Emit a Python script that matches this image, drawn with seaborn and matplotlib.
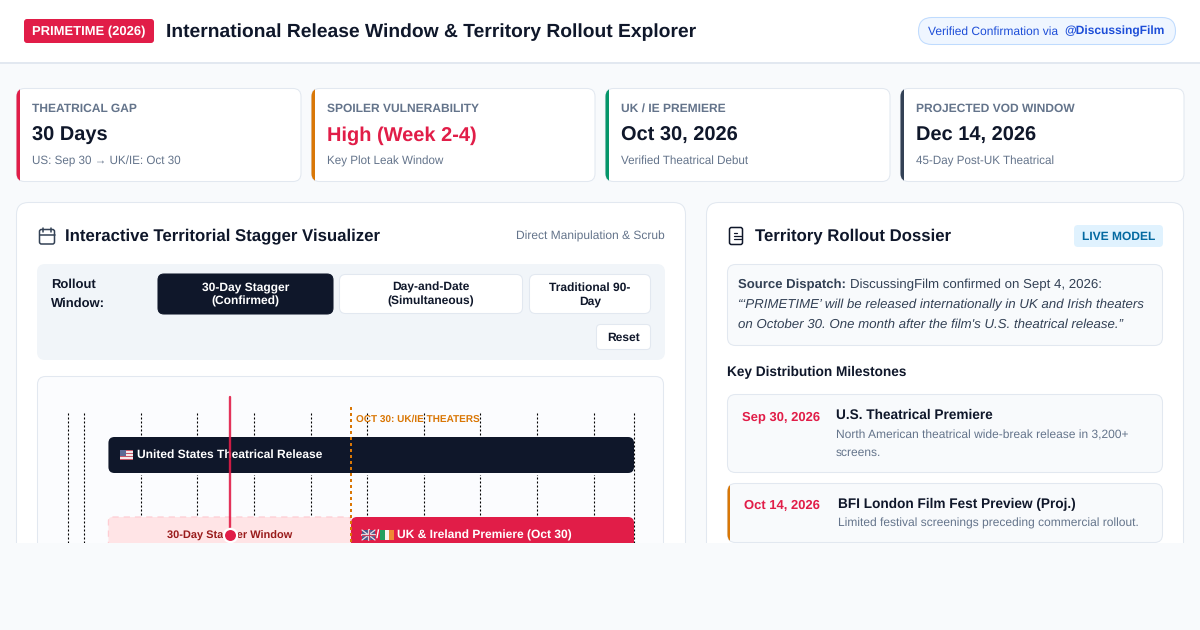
import matplotlib
matplotlib.use("Agg")
import matplotlib.pyplot as plt
import matplotlib.dates as mdates
from matplotlib.patches import FancyBboxPatch, Rectangle
from datetime import date
import seaborn as sns

# Timeline data
axis_start = date(2026, 9, 25)
axis_end = date(2026, 12, 4)
grid_dates = [date(2026, 9, 25), date(2026, 9, 27), date(2026, 10, 4), date(2026, 10, 11),
              date(2026, 10, 18), date(2026, 10, 25), date(2026, 11, 1), date(2026, 11, 8),
              date(2026, 11, 15), date(2026, 11, 22), date(2026, 11, 29), date(2026, 12, 4)]
scrub_date = date(2026, 10, 15)
uk_date = date(2026, 10, 30)

tracks = ["US", "UK/IE"]
bar_tracks = ["US", "UK/IE", "UK/IE"]
bar_starts = [date(2026, 9, 30), date(2026, 9, 30), date(2026, 10, 30)]
bar_ends = [date(2026, 12, 4), date(2026, 10, 30), date(2026, 12, 4)]
bar_labels = ["United States Theatrical Release", "30-Day Stagger Window", "UK & Ireland Premiere (Oct 30)"]

card_titles = ["THEATRICAL GAP", "SPOILER VULNERABILITY", "UK / IE PREMIERE", "PROJECTED VOD WINDOW"]
card_values = ["30 Days", "High (Week 2-4)", "Oct 30, 2026", "Dec 14, 2026"]
card_notes = ["US: Sep 30 → UK/IE: Oct 30", "Key Plot Leak Window", "Verified Theatrical Debut", "45-Day Post-UK Theatrical"]
card_x = [16, 311, 605, 900]
card_w = [285, 284, 285, 284]

INK = "#0f172a"
ROSE = "#e11d48"
AMBER = "#d97706"
GREEN = "#059669"
SLATE = "#334155"
GREY = "#64748b"
LINE = "#e2e8f0"
PAGE = "#f8fafc"
card_colors = [ROSE, AMBER, GREEN, SLATE]
value_colors = [INK, ROSE, INK, INK]

sns.set_theme(style="white")
plt.rcParams["font.family"] = ["Liberation Sans", "DejaVu Sans"]
plt.rcParams["text.hinting"] = "no_hinting"

fig = plt.figure(figsize=(12, 6.3), dpi=100, facecolor=PAGE)
ui = fig.add_axes([0, 0, 1, 1], zorder=0)
ui.set_xlim(0, 1200)
ui.set_ylim(630, 0)
ui.axis("off")


def px(size):
    return size * 0.72


def box(x, y, w, h, r=8, fc="white", ec=LINE, lw=0.75, ax=ui, z=2, **kw):
    p = FancyBboxPatch((x, y), w, h, boxstyle=f"round,pad=0,rounding_size={r}", fc=fc, ec=ec, lw=lw, zorder=z, **kw)
    ax.add_patch(p)
    return p


def txt(x, y, s, size=13, color=INK, weight="normal", ha="left", style="normal", z=5, **kw):
    return ui.text(x, y, s, fontsize=px(size), color=color, fontweight=weight, ha=ha, va="center",
                   fontstyle=style, zorder=z, **kw)


# header
ui.add_patch(Rectangle((0, 0), 1200, 63, fc="white", ec="none", zorder=1))
ui.add_patch(Rectangle((0, 62), 1200, 2, fc=LINE, ec="none", zorder=1))
box(24, 19, 130, 24, r=3, fc=ROSE, ec="none")
txt(32, 31.5, "PRIMETIME (2026)", 13, "white", "bold")
txt(166, 32, "International Release Window & Territory Rollout Explorer", 19.3, INK, "bold")
box(918.5, 17.5, 257, 27, r=13.5, fc="#eff6ff", ec="#bfdbfe")
txt(928.5, 31.5, "Verified Confirmation via", 12, "#1d4ed8")
txt(1064, 31.5, "@DiscussingFilm", 12, "#1d4ed8", "bold")

# stat cards
for i in range(4):
    x, w = card_x[i], card_w[i]
    box(x + 0.5, 88.5, w - 0.5, 93, r=8, ec=LINE)
    clip = box(x + 0.5, 88.5, w - 0.5, 93, r=8, fc="none", ec="none", z=1)
    bar = Rectangle((x, 88), 4, 94, fc=card_colors[i], ec="none", zorder=3)
    ui.add_patch(bar)
    bar.set_clip_path(clip)
    txt(x + 16, 109, card_titles[i], 12, GREY, "bold")
    txt(x + 16, 135.5, card_values[i], 20, value_colors[i], "bold")
    txt(x + 16, 161, card_notes[i], 11.6, GREY)

# main panels, cut by the bottom of the page
box(16.5, 202.5, 669, 420, r=12, ec=LINE)
box(706.5, 202.5, 477, 420, r=12, ec=LINE)

# left panel header
box(39.5, 229.5, 15, 14.5, r=2, fc="none", ec=SLATE, lw=1.1)
ui.plot([39.5, 54.5], [235, 235], color=SLATE, lw=1.1, zorder=4)
ui.plot([43, 43], [227.5, 231.5], color=SLATE, lw=1.1, zorder=4)
ui.plot([51, 51], [227.5, 231.5], color=SLATE, lw=1.1, zorder=4)
txt(65, 236, "Interactive Territorial Stagger Visualizer", 16.8, INK, "bold")
txt(665, 236.5, "Direct Manipulation & Scrub", 12, GREY, ha="right")

# controls
box(37, 264, 628, 96, r=8, fc="#f1f5f9", ec="none")
txt(51, 285, "Rollout", 13, INK, "bold")
txt(51, 304, "Window:", 13, INK, "bold")
box(158, 274, 175, 40, r=6, fc=INK, ec=INK)
txt(245.5, 287.5, "30-Day Stagger", 12, "white", "bold", ha="center")
txt(245.5, 301.5, "(Confirmed)", 12, "white", "bold", ha="center")
box(339.5, 274.5, 183, 39, r=6)
txt(431, 287.5, "Day-and-Date", 12, INK, "bold", ha="center")
txt(431, 301.5, "(Simultaneous)", 12, INK, "bold", ha="center")
box(529.5, 274.5, 121, 39, r=6)
txt(590, 287.5, "Traditional 90-", 12, INK, "bold", ha="center")
txt(590, 301.5, "Day", 12, INK, "bold", ha="center")
box(596.5, 324.5, 54, 25, r=4)
txt(623.5, 337.5, "Reset", 12, INK, "bold", ha="center")

# timeline frame
box(37.5, 376.5, 626, 240, r=8, fc="#fbfcfe", ec=LINE)


def fig_rect(x0, y0, x1, y1):
    return [x0 / 1200, 1 - y1 / 630, (x1 - x0) / 1200, (y1 - y0) / 630]


# timeline axes: 80 px per track, x in days
tl = fig.add_axes(fig_rect(68, 412, 634, 543), zorder=1)
tl.patch.set_alpha(0)
ROW_TOP = (412 - 455) / 80
ROW_BOTTOM = (543 - 455) / 80
px_per_day = 566 / (mdates.date2num(axis_end) - mdates.date2num(axis_start))
fills = [INK, "#ffe4e6", ROSE]
edges = ["none", "#fecdd3", "none"]

for i in range(len(bar_labels)):
    start = mdates.date2num(bar_starts[i])
    sns.barplot(x=[mdates.date2num(bar_ends[i]) - start], y=[bar_tracks[i]], order=tracks, orient="y",
                left=start, width=0.45, color=fills[i], saturation=1, errorbar=None, ax=tl)

tl.set_xlim(mdates.date2num(axis_start), mdates.date2num(axis_end))
tl.set_ylim(ROW_BOTTOM, ROW_TOP)
tl.tick_params(left=False, bottom=False, labelleft=False, labelbottom=False)
tl.set_xlabel("")
tl.set_ylabel("")
tl.grid(False)
for s in tl.spines.values():
    s.set_visible(False)
for d in grid_dates:
    tl.axvline(mdates.date2num(d), color="black", lw=0.8, ls=(0, (1.8, 1.8)), zorder=0.5, clip_on=False)

# round the bars seaborn drew, keeping their extents
aspect = (1 / 80) / (1 / px_per_day)
bars = list(tl.patches)
for i, b in enumerate(bars):
    b.set_visible(False)
    r_days = (4 if i == 1 else 6) / px_per_day
    fancy = FancyBboxPatch((b.get_x(), b.get_y()), b.get_width(), b.get_height(),
                           boxstyle=f"round,pad=0,rounding_size={r_days}", mutation_aspect=aspect,
                           fc=b.get_facecolor(), ec=edges[i], lw=0.9 if i == 1 else 0,
                           ls=(0, (5, 4)) if i == 1 else "-", zorder=2, clip_on=False)
    tl.add_patch(fancy)
# gap under the US bar, like the original's bar shadow
tl.add_patch(Rectangle((bars[0].get_x(), 0.225), bars[0].get_width(), 2 / 80, fc="#fbfcfe", ec="none", zorder=1))

us_x = bars[0].get_x()
tl.text(us_x + 29 / px_per_day, 0, bar_labels[0], color="white", fontsize=px(12), fontweight="bold", va="center", zorder=4)
tl.text(bars[1].get_x() + bars[1].get_width() / 2, 1.005, bar_labels[1], color="#991b1b", fontsize=px(11),
        fontweight="bold", ha="center", va="center", zorder=4)
tl.text(bars[2].get_x() + 46 / px_per_day, 1, bar_labels[2], color="white", fontsize=px(12), fontweight="bold",
        va="center", zorder=4)

# small flags drawn on their own overlay
ov = fig.add_axes([0, 0, 1, 1], zorder=2)
ov.set_xlim(0, 1200)
ov.set_ylim(630, 0)
ov.axis("off")


def flag(x_px, y_px, w, h, colors, vertical=False):
    n = len(colors)
    for k, c in enumerate(colors):
        if vertical:
            rect = (x_px + k * w / n, y_px, w / n, h)
        else:
            rect = (x_px, y_px + k * h / n, w, h / n)
        ov.add_patch(Rectangle(rect[:2], rect[2], rect[3], fc=c, ec="none", zorder=6))


flag(119.5, 450, 13.5, 10, ["#c9576a", "#f4e8ea", "#c9576a", "#f4e8ea", "#c9576a", "#f4e8ea", "#c9576a"])
ov.add_patch(Rectangle((119.5, 450), 6, 5.5, fc="#5b6a96", ec="none", zorder=7))
flag(362, 530, 13, 10, ["#4a5688"])
ov.plot([362, 375], [530, 540], color="#e8dde4", lw=0.9, zorder=7)
ov.plot([362, 375], [540, 530], color="#e8dde4", lw=0.9, zorder=7)
ov.plot([368.5, 368.5], [530, 540], color="#e8dde4", lw=1.6, zorder=7)
ov.plot([362, 375], [535, 535], color="#e8dde4", lw=1.6, zorder=7)
ov.plot([368.5, 368.5], [530, 540], color="#c9405f", lw=0.8, zorder=8)
ov.plot([362, 375], [535, 535], color="#c9405f", lw=0.8, zorder=8)
ov.text(375.6, 535, "/", color="white", fontsize=px(12), fontweight="bold", va="center", zorder=8)
flag(380, 530, 13.5, 10, ["#22a05f", "#f8f4f0", "#f08a35"], vertical=True)

# scrubber and UK marker over everything in the timeline
scrub = mdates.date2num(scrub_date)
uk = mdates.date2num(uk_date)
tl.plot([uk, uk], [(407 - 455) / 80, ROW_BOTTOM], color=AMBER, lw=1.44, ls=(0, (1.5, 1.5)), zorder=5, clip_on=False)
tl.plot([scrub, scrub], [(397 - 455) / 80, 1], color=ROSE, lw=1.7, alpha=0.9, zorder=6, clip_on=False)
tl.plot([scrub], [1], marker="o", ms=9.5, mfc=ROSE, mec="white", mew=1.6, zorder=7, clip_on=False)
tl.text(uk + 5 / px_per_day, (419 - 455) / 80, "OCT 30: UK/IE THEATERS", color=AMBER, fontsize=px(10),
        fontweight="bold", va="center", zorder=4, clip_on=False)

# right panel
doc_x, doc_y = 729.5, 227.5
ui.add_patch(FancyBboxPatch((doc_x, doc_y), 13, 17, boxstyle="round,pad=0,rounding_size=2", fc="none", ec=INK, lw=1.1, zorder=4))
ui.plot([734, 741], [236, 236], color=INK, lw=0.9, zorder=4)
ui.plot([734, 741], [239, 239], color=INK, lw=0.9, zorder=4)
ui.plot([734, 736.5], [232.5, 232.5], color=INK, lw=0.9, zorder=4)
txt(755, 236, "Territory Rollout Dossier", 16.8, INK, "bold")
box(1074, 225, 89, 22, r=4, fc="#e0f2fe", ec="none")
txt(1118.5, 236.5, "LIVE MODEL", 12, "#0369a1", "bold", ha="center")

box(727.5, 264.5, 435, 81, r=8, fc=PAGE, ec=LINE)
txt(738, 285, "Source Dispatch:", 13.1, SLATE, "bold")
txt(850, 285, "DiscussingFilm confirmed on Sept 4, 2026:", 13.2, SLATE)
txt(738, 305, "“‘PRIMETIME’ will be released internationally in UK and Irish theaters", 13.2, SLATE, style="italic")
txt(738, 325, "on October 30. One month after the film's U.S. theatrical release.”", 13.2, SLATE, style="italic")
txt(727, 372, "Key Distribution Milestones", 13.6, INK, "bold")

box(727.5, 394.5, 435, 78, r=8, fc=PAGE, ec=LINE)
txt(742, 417, "Sep 30, 2026", 13, ROSE, "bold")
txt(836, 415, "U.S. Theatrical Premiere", 13.6, INK, "bold")
txt(836, 435, "North American theatrical wide-break release in 3,200+", 12, GREY)
txt(836, 453, "screens.", 12, GREY)

box(727.5, 483.5, 435, 59, r=8, fc=PAGE, ec=LINE)
clip2 = box(727.5, 483.5, 435, 59, r=8, fc="none", ec="none", z=1)
edge = Rectangle((727, 483), 3, 60, fc=AMBER, ec="none", zorder=3)
ui.add_patch(edge)
edge.set_clip_path(clip2)
txt(744, 506, "Oct 14, 2026", 13, ROSE, "bold")
txt(838, 504, "BFI London Film Fest Preview (Proj.)", 13.6, INK, "bold")
txt(838, 523, "Limited festival screenings preceding commercial rollout.", 12, GREY)

# the page cuts off everything below here
fig.add_artist(Rectangle((0, 0), 1, 87 / 630, transform=fig.transFigure, fc=PAGE, ec="none", zorder=10))

fig.savefig("out.png", dpi=100, facecolor=PAGE)
